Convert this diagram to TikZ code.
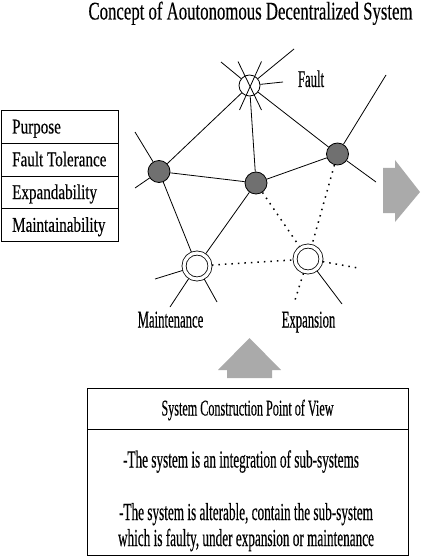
\documentclass[tikz,border=0pt]{standalone}
\usepackage{fontspec}
\setmainfont{Liberation Serif}
\newfontfamily\labfont[FakeStretch=0.53,FakeBold=0.3]{Liberation Serif}
\newfontfamily\boxfont[FakeStretch=0.54,FakeBold=0.3]{Liberation Serif}
\newfontfamily\titfont[FakeStretch=0.66,FakeBold=0.3]{Liberation Serif}
\newfontfamily\tabfont[FakeStretch=0.72,FakeBold=0.3]{Liberation Serif}
\definecolor{nodegrey}{RGB}{112,112,112}
\definecolor{arrowgrey}{RGB}{170,170,170}
\begin{document}
\begin{tikzpicture}[x=1pt,y=-1pt,
  ln/.style={line width=0.8pt},
  dt/.style={line width=1.5pt, dash pattern=on 1.5pt off 5pt},
  gnode/.style={circle, draw, line width=0.8pt, fill=nodegrey, minimum size=22pt, inner sep=0pt},
  fnode/.style={circle, draw, line width=0.8pt, minimum size=21pt, inner sep=0pt},
  dnode/.style={circle, draw, line width=0.8pt, double=white, double distance=3.2pt, fill=white, minimum size=26pt, inner sep=0pt, outer sep=2pt},
  cell/.style={draw, line width=0.8pt, anchor=north west, minimum width=117pt, minimum height=32.75pt, inner sep=0pt},
  celltxt/.style={anchor=base west, inner sep=0pt, font=\tabfont\fontsize{21}{23}\selectfont},
  lbl/.style={anchor=base, inner sep=0pt, font=\labfont\fontsize{24}{26}\selectfont},
  boxtxt/.style={anchor=base, inner sep=0pt, font=\boxfont\fontsize{24.5}{26}\selectfont},
  bigarrow/.style={fill=arrowgrey, draw=none}
]
\useasboundingbox (0,0) rectangle (422,556);

% title
\node[anchor=base, inner sep=0pt, font=\titfont\fontsize{25.4}{27}\selectfont] (title) at (250.5,19.5) {Concept of Aoutonomous Decentralized System};

% table
\node[cell] (r1) at (1,110) {};
\node[cell] (r2) at (1,142.75) {};
\node[cell] (r3) at (1,175.5) {};
\node[cell] (r4) at (1,208.25) {};
\node[celltxt] (t1) at (12,133.5) {Purpose};
\node[celltxt] (t2) at (12,166.25) {Fault Tolerance};
\node[celltxt] (t3) at (12,199) {Expandability};
\node[celltxt] (t4) at (12,231.75) {Maintainability};

% nodes
\node[fnode] (fault) at (249.5,85.5) {};
\node[gnode] (gl) at (159,171.5) {};
\node[gnode] (gm) at (256,183) {};
\node[gnode] (gr) at (337.5,154) {};
\node[dnode] (maint) at (197,266) {};
\node[dnode] (exp) at (308,259) {};

% free ends of spokes
\coordinate (f1) at (221,62);
\coordinate (f2) at (294,49);
\coordinate (f3) at (283,82);
\coordinate (fx1) at (238,61.5);
\coordinate (fx2) at (261.5,110);
\coordinate (fx3) at (261.5,61.5);
\coordinate (fx4) at (239.5,110);
\coordinate (gl1) at (135,132);
\coordinate (gl2) at (135,188);
\coordinate (gr1) at (386,75);
\coordinate (gr2) at (376,182);
\coordinate (m1) at (155,279);
\coordinate (m2) at (170,307);
\coordinate (m3) at (217,302);
\coordinate (e1) at (358,268);
\coordinate (e2) at (295,300);
\coordinate (e3) at (342,304);

% solid edges
\draw[ln] (fault) -- (gl);
\draw[ln] (fault) -- (gm);
\draw[ln] (fault) -- (gr);
\draw[ln] (gl) -- (gm);
\draw[ln] (gm) -- (gr);
\draw[ln] (gl) -- (maint);
\draw[ln] (gm) -- (maint);
% dotted edges
\draw[dt] (gm) -- (exp);
\draw[dt] (gr) -- (exp);
\draw[dt] (maint) -- (exp);

% spokes
\draw[ln] (f1) -- (fault);
\draw[ln] (f2) -- (fault);
\draw[ln] (f3) -- (fault);
\draw[ln] (fx1) -- (fx2);
\draw[ln] (fx3) -- (fx4);
\draw[ln] (gl1) -- (gl);
\draw[ln] (gl2) -- (gl);
\draw[ln] (gr1) -- (gr);
\draw[ln] (gr2) -- (gr);
\draw[ln] (m1) -- (maint);
\draw[ln] (m2) -- (maint);
\draw[ln] (m3) -- (maint);
\draw[dt] (exp) -- (e1);
\draw[dt] (exp) -- (e2);
\draw[ln] (exp) -- (e3);

% labels
\node[lbl] (lfault) at (311,87) {Fault};
\node[lbl] (lmaint) at (170.5,327.5) {Maintenance};
\node[lbl] (lexp) at (308.5,327.5) {Expansion};

% big arrows
\path[bigarrow] (383,168) -- (395,168) -- (395,160) -- (420,192) -- (395,222) -- (395,213) -- (383,213) -- cycle;
\path[bigarrow] (227,378) -- (227,370) -- (218,370) -- (249.5,338) -- (281,370) -- (272,370) -- (272,378) -- cycle;

% bottom box
\node[draw, line width=0.8pt, anchor=north west, minimum width=321pt, minimum height=41pt, inner sep=0pt] (hdr) at (87,388) {};
\node[draw, line width=0.8pt, anchor=north west, minimum width=321pt, minimum height=125.5pt, inner sep=0pt] (body) at (87,429) {};
\node[anchor=base, inner sep=0pt, font=\boxfont\fontsize{22.5}{24}\selectfont] (htxt) at (247.5,415.5) {System Construction Point of View};
\node[boxtxt] (b1) at (241,467.5) {-The system is an integration of sub-systems};
\node[boxtxt] (b2) at (246,520) {-The system is alterable, contain the sub-system};
\node[boxtxt] (b3) at (246,546) {which is faulty, under expansion or maintenance};
\end{tikzpicture}
\end{document}
